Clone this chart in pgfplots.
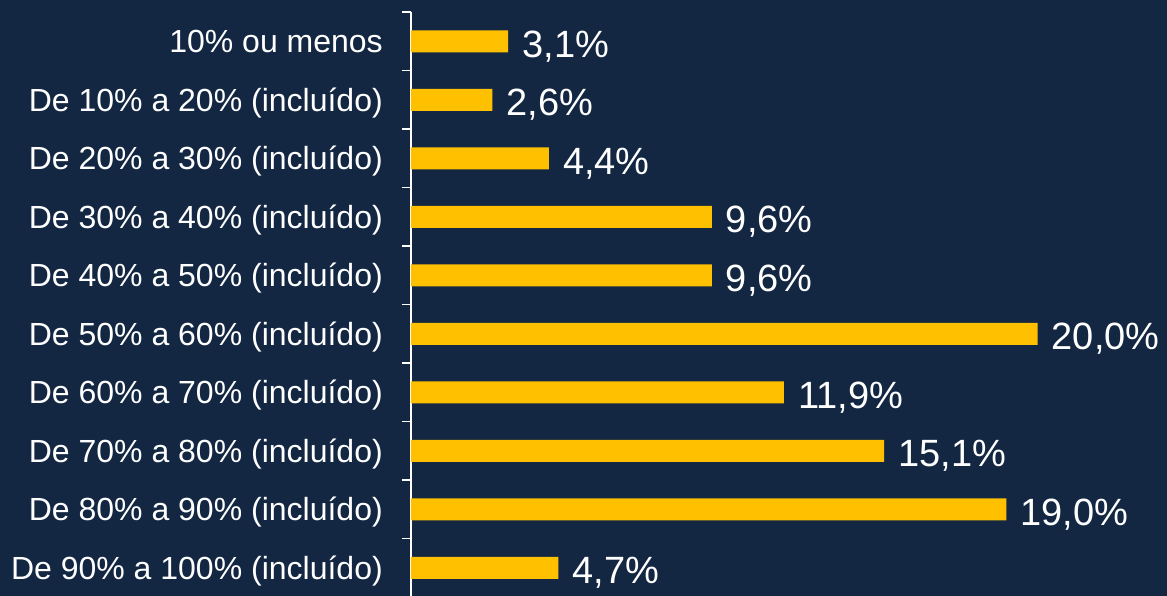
\documentclass[border=0pt]{standalone}
\usepackage{pgfplots}
\pgfplotsset{compat=1.18}
\usepackage{fontspec}
\setmainfont{Liberation Sans}
\definecolor{bg}{HTML}{132743}
\definecolor{barc}{HTML}{FFC000}
\begin{document}
\begin{tikzpicture}
\fill[bg] (-411bp,1bp) rectangle (756bp,597bp);
\begin{axis}[
  at={(0,0)}, anchor=south west,
  scale only axis, width=752bp, height=585bp,
  xmin=0, xmax=24, ymin=-0.5, ymax=9.5, y dir=reverse,
  xbar, bar width=22bp,
  axis x line=none, axis y line*=left,
  y axis line style={white, line width=1.5bp, -},
  ytick={0,...,9},
  yticklabels={10\% ou menos, De 10\% a 20\% (incluído), De 20\% a 30\% (incluído), De 30\% a 40\% (incluído), De 40\% a 50\% (incluído), De 50\% a 60\% (incluído), De 60\% a 70\% (incluído), De 70\% a 80\% (incluído), De 80\% a 90\% (incluído), De 90\% a 100\% (incluído)},
  minor ytick={-0.5,0.5,...,9.5},
  major tick length=0pt, minor tick length=9bp,
  tick align=outside,
  every tick/.style={white, line width=1.2bp},
  yticklabel style={font=\fontsize{32bp}{36bp}\selectfont, text=white, anchor=base east, inner sep=0pt, xshift=-28bp, yshift=-11.5bp},
  /pgf/number format/assume math mode=true,
  point meta=x,
  nodes near coords={\pgfmathprintnumber[fixed, fixed zerofill, precision=1, use comma]{\pgfplotspointmeta}\%},
  nodes near coords style={anchor=base west, inner sep=0pt, xshift=14bp, yshift=-16bp, font=\fontsize{38bp}{42bp}\selectfont, text=white},
]
\addplot[fill=barc, draw=none] coordinates {
  (3.1,0) (2.6,1) (4.4,2) (9.6,3) (9.6,4) (20.0,5) (11.9,6) (15.1,7) (19.0,8) (4.7,9)
};
\end{axis}
\pgfresetboundingbox
\useasboundingbox (-411bp,1bp) rectangle (756bp,597bp);
\end{tikzpicture}
\end{document}
